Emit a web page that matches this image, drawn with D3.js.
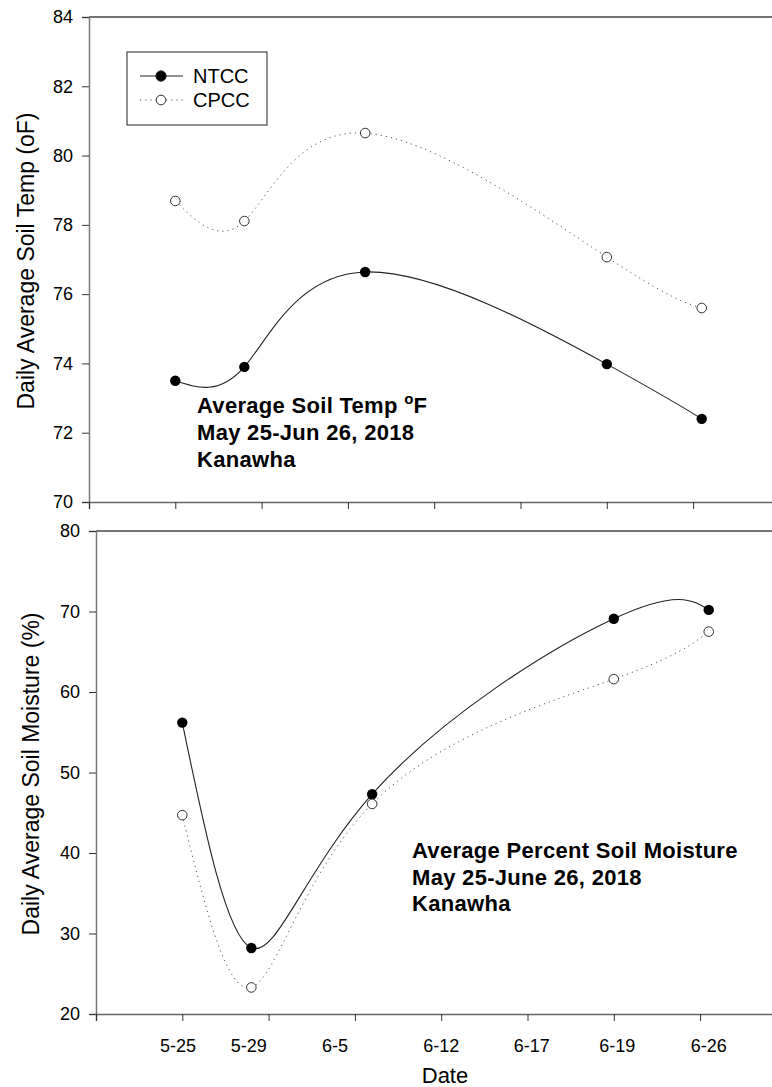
<!DOCTYPE html>
<html>
<head>
<meta charset="utf-8">
<script src="https://cdn.jsdelivr.net/npm/d3@7"></script>
<style>
  body { margin: 0; background: #fff; }
  text { font-family: "Liberation Sans", Arial, sans-serif; fill: #000; }
</style>
</head>
<body>
<div id="chart"></div>
<script>
// x position of each sampling date on the index axis (ticks at 0..8)
var sampleX = [1.0, 1.8, 3.2, 6.0, 7.1];

var tempNTCC = [73.5, 73.9, 76.64, 73.98, 72.4];
var tempCPCC = [78.69, 78.11, 80.65, 77.07, 75.6];

var moistNTCC = [56.2, 28.2, 47.3, 69.1, 70.2];
var moistCPCC = [44.7, 23.3, 46.1, 61.6, 67.5];

var dateLabels = ["5-25", "5-29", "6-5", "6-12", "6-17", "6-19", "6-26"];
var dateLabelX = [0.95, 1.77, 2.77, 4.0, 5.05, 6.04, 7.1];

var tempTicks = [70, 72, 74, 76, 78, 80, 82, 84];
var moistTicks = [20, 30, 40, 50, 60, 70, 80];

var width = 772, height = 1087;

var svg = d3.select("#chart")
    .append("svg")
    .attr("width", width)
    .attr("height", height);

function drawPanel(opt) {
    var x = d3.scaleLinear().domain([0, 8]).range([opt.left, opt.left + 8 * 86.3]);
    var y = d3.scaleLinear().domain(opt.yDomain).range([opt.bottom, opt.top]);

    var g = svg.append("g");

    // top frame line
    g.append("line")
        .attr("x1", opt.left).attr("x2", x(8))
        .attr("y1", opt.top).attr("y2", opt.top)
        .attr("stroke", "#444").attr("stroke-width", 1.5);

    // y axis
    var yAxis = g.append("g")
        .attr("transform", "translate(" + opt.left + ",0)")
        .call(d3.axisLeft(y).tickValues(opt.yTicks).tickSize(7).tickPadding(9).tickFormat(d3.format("d")));
    yAxis.select(".domain").attr("stroke", "#777").attr("stroke-width", 1.5);
    yAxis.selectAll(".tick line").attr("stroke", "#333");
    yAxis.selectAll("text")
        .style("font-size", "18px")
        .style("font-family", "Liberation Sans, Arial, sans-serif");

    // x axis
    var xAxis = g.append("g")
        .attr("transform", "translate(0," + opt.bottom + ")")
        .call(d3.axisBottom(x).tickValues(d3.range(0, 9)).tickSize(7).tickFormat(""));
    xAxis.select(".domain").attr("stroke", "#666").attr("stroke-width", 1.5);
    xAxis.selectAll(".tick line").attr("stroke", "#333");

    var line = d3.line()
        .x(function (d, i) { return x(sampleX[i]); })
        .y(function (d) { return y(d); })
        .curve(d3.curveNatural);

    // CPCC dotted
    g.append("path")
        .datum(opt.cpcc)
        .attr("fill", "none")
        .attr("stroke", "#555")
        .attr("stroke-width", 1)
        .attr("stroke-dasharray", "1.2,4")
        .attr("d", line);

    // NTCC solid
    g.append("path")
        .datum(opt.ntcc)
        .attr("fill", "none")
        .attr("stroke", "#222")
        .attr("stroke-width", 1.1)
        .attr("d", line);

    g.selectAll(".ptN")
        .data(opt.ntcc)
        .enter()
        .append("circle")
        .attr("cx", function (d, i) { return x(sampleX[i]); })
        .attr("cy", function (d) { return y(d); })
        .attr("r", 5.2)
        .attr("fill", "#000");

    g.selectAll(".ptC")
        .data(opt.cpcc)
        .enter()
        .append("circle")
        .attr("cx", function (d, i) { return x(sampleX[i]); })
        .attr("cy", function (d) { return y(d); })
        .attr("r", 4.8)
        .attr("fill", "#fff")
        .attr("stroke", "#333")
        .attr("stroke-width", 1);

    return { x: x, y: y, g: g };
}

var top = drawPanel({
    left: 89, top: 17, bottom: 502,
    yDomain: [70, 84], yTicks: tempTicks,
    ntcc: tempNTCC, cpcc: tempCPCC
});

var bot = drawPanel({
    left: 96, top: 531, bottom: 1014,
    yDomain: [20, 80], yTicks: moistTicks,
    ntcc: moistNTCC, cpcc: moistCPCC
});

// date labels under the bottom panel
bot.g.selectAll(".dlab")
    .data(dateLabels)
    .enter()
    .append("text")
    .attr("x", function (d, i) { return bot.x(dateLabelX[i]); })
    .attr("y", 1052)
    .attr("text-anchor", "middle")
    .style("font-size", "18px")
    .text(function (d) { return d; });

svg.append("text")
    .attr("x", 445).attr("y", 1083)
    .attr("text-anchor", "middle")
    .style("font-size", "22px")
    .text("Date");

// y titles
svg.append("text")
    .attr("transform", "translate(34,261) rotate(-90)")
    .attr("text-anchor", "middle")
    .style("font-size", "23px")
    .text("Daily Average Soil Temp (oF)");

svg.append("text")
    .attr("transform", "translate(39,774) rotate(-90)")
    .attr("text-anchor", "middle")
    .style("font-size", "23px")
    .text("Daily Average Soil Moisture (%)");

// annotations
var annStyle = function (t) {
    return t.style("font-size", "22px").style("font-weight", "bold").style("letter-spacing", "0.3px");
};

var a1 = annStyle(svg.append("text").attr("x", 197).attr("y", 413));
a1.append("tspan").text("Average Soil Temp ");
a1.append("tspan").attr("dy", -9).style("font-size", "15px").text("o");
a1.append("tspan").attr("dy", 9).text("F");

annStyle(svg.append("text").attr("x", 197).attr("y", 440)).text("May 25-Jun 26, 2018");
annStyle(svg.append("text").attr("x", 197).attr("y", 467)).text("Kanawha");

var ann2 = ["Average Percent Soil Moisture", "May 25-June 26, 2018", "Kanawha"];
annStyle(svg.selectAll(".ann2")
    .data(ann2)
    .enter()
    .append("text")
    .attr("x", 412)
    .attr("y", function (d, i) { return 858 + i * 26.5; }))
    .text(function (d) { return d; });

// legend
var leg = svg.append("g");
leg.append("rect")
    .attr("x", 127).attr("y", 52).attr("width", 140).attr("height", 73)
    .attr("fill", "#fff").attr("stroke", "#222").attr("stroke-width", 1);

var legItems = ["NTCC", "CPCC"];
legItems.forEach(function (name, i) {
    var yy = 76 + i * 24;
    leg.append("line")
        .attr("x1", 140).attr("x2", 183).attr("y1", yy).attr("y2", yy)
        .attr("stroke", i == 0 ? "#222" : "#555")
        .attr("stroke-dasharray", i == 0 ? null : "1.2,4");
    leg.append("circle")
        .attr("cx", 161).attr("cy", yy).attr("r", i == 0 ? 5.2 : 4.8)
        .attr("fill", i == 0 ? "#000" : "#fff")
        .attr("stroke", "#333");
    leg.append("text")
        .attr("x", 193).attr("y", yy + 7)
        .style("font-size", "20px")
        .text(name);
});
</script>
</body>
</html>
